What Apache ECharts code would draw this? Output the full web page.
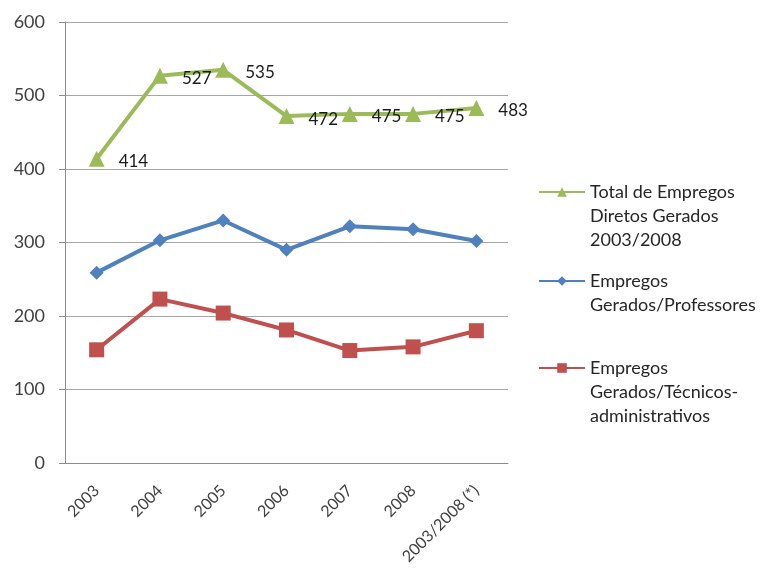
<!DOCTYPE html>
<html>
<head>
<meta charset="utf-8">
<script src="https://cdn.jsdelivr.net/npm/echarts@6/dist/echarts.min.js"></script>
<style>
  html, body { margin: 0; padding: 0; background: #fff; }
  #chart { width: 766px; height: 576px; }
</style>
</head>
<body>
<div id="chart"></div>
<script>
// Anos do período e total consolidado
const categories = ['2003', '2004', '2005', '2006', '2007', '2008', '2003/2008 (*)'];

// Séries de empregos gerados
const totalEmpregos = [414, 527, 535, 472, 475, 475, 483];
const professores = [259, 303, 330, 290, 322, 318, 302];
const tecnicos = [154, 223, 204, 181, 153, 158, 180];

// Nomes das séries (legenda)
const nomeTotal = 'Total de Empregos\nDiretos Gerados\n2003/2008';
const nomeProf = 'Empregos\nGerados/Professores';
const nomeTec = 'Empregos\nGerados/Técnicos-\nadministrativos';

const yTicks = { min: 0, max: 600, interval: 100 };

const FONT = 'Lato';
const LINE_H = 24;

// Legend text is centred on its icon; pad with blank lines above so the
// icon sits beside the first line of a multi-line name.
function legendFor(name, iconY) {
  const lines = name.split('\n').length;
  const total = 2 * lines - 1;
  return {
    data: [name],
    orient: 'vertical',
    left: 533,
    top: iconY - 4 - (total * LINE_H) / 2,
    itemWidth: 46,
    itemHeight: 12,
    itemGap: 0,
    formatter: n => '\u00a0\n'.repeat(lines - 1) + n,
    textStyle: {
      fontFamily: FONT,
      fontSize: 18,
      color: '#262626',
      lineHeight: LINE_H
    },
    selectedMode: false
  };
}

const chart = echarts.init(document.getElementById('chart'), null, { renderer: 'canvas' });

chart.setOption({
  animation: false,
  backgroundColor: '#ffffff',
  grid: { left: 65, right: 258, top: 22, bottom: 113, containLabel: false },
  legend: [
    legendFor(nomeTotal, 191),
    legendFor(nomeProf, 280),
    legendFor(nomeTec, 367)
  ],
  xAxis: {
    type: 'category',
    data: categories,
    boundaryGap: true,
    axisLine: { lineStyle: { color: '#8c8c8c', width: 1 } },
    axisTick: { show: false },
    axisLabel: {
      rotate: 45,
      interval: 0,
      margin: 25,
      fontFamily: FONT,
      fontSize: 16,
      color: '#404040'
    }
  },
  yAxis: {
    type: 'value',
    min: yTicks.min,
    max: yTicks.max,
    interval: yTicks.interval,
    axisLine: { show: true, lineStyle: { color: '#8c8c8c', width: 1 } },
    axisTick: { show: true, length: 6, lineStyle: { color: '#8c8c8c' } },
    splitLine: { lineStyle: { color: '#a6a6a6', width: 1 } },
    axisLabel: {
      margin: 20,
      fontFamily: FONT,
      fontSize: 18,
      color: '#404040'
    }
  },
  series: [
    {
      name: nomeTotal,
      type: 'line',
      data: totalEmpregos,
      symbol: 'triangle',
      symbolSize: 16,
      itemStyle: { color: '#9BBB59' },
      lineStyle: { color: '#9BBB59', width: 4 },
      label: {
        show: true,
        position: 'right',
        distance: 14,
        offset: [0, 3],
        fontFamily: FONT,
        fontSize: 17,
        color: '#1a1a1a'
      },
      z: 3
    },
    {
      name: nomeProf,
      type: 'line',
      data: professores,
      symbol: 'diamond',
      symbolSize: 14,
      itemStyle: { color: '#4F81BD' },
      lineStyle: { color: '#4F81BD', width: 4 },
      z: 2
    },
    {
      name: nomeTec,
      type: 'line',
      data: tecnicos,
      symbol: 'rect',
      symbolSize: 15,
      itemStyle: { color: '#C0504D' },
      lineStyle: { color: '#C0504D', width: 4 },
      z: 2
    }
  ]
});
</script>
</body>
</html>
